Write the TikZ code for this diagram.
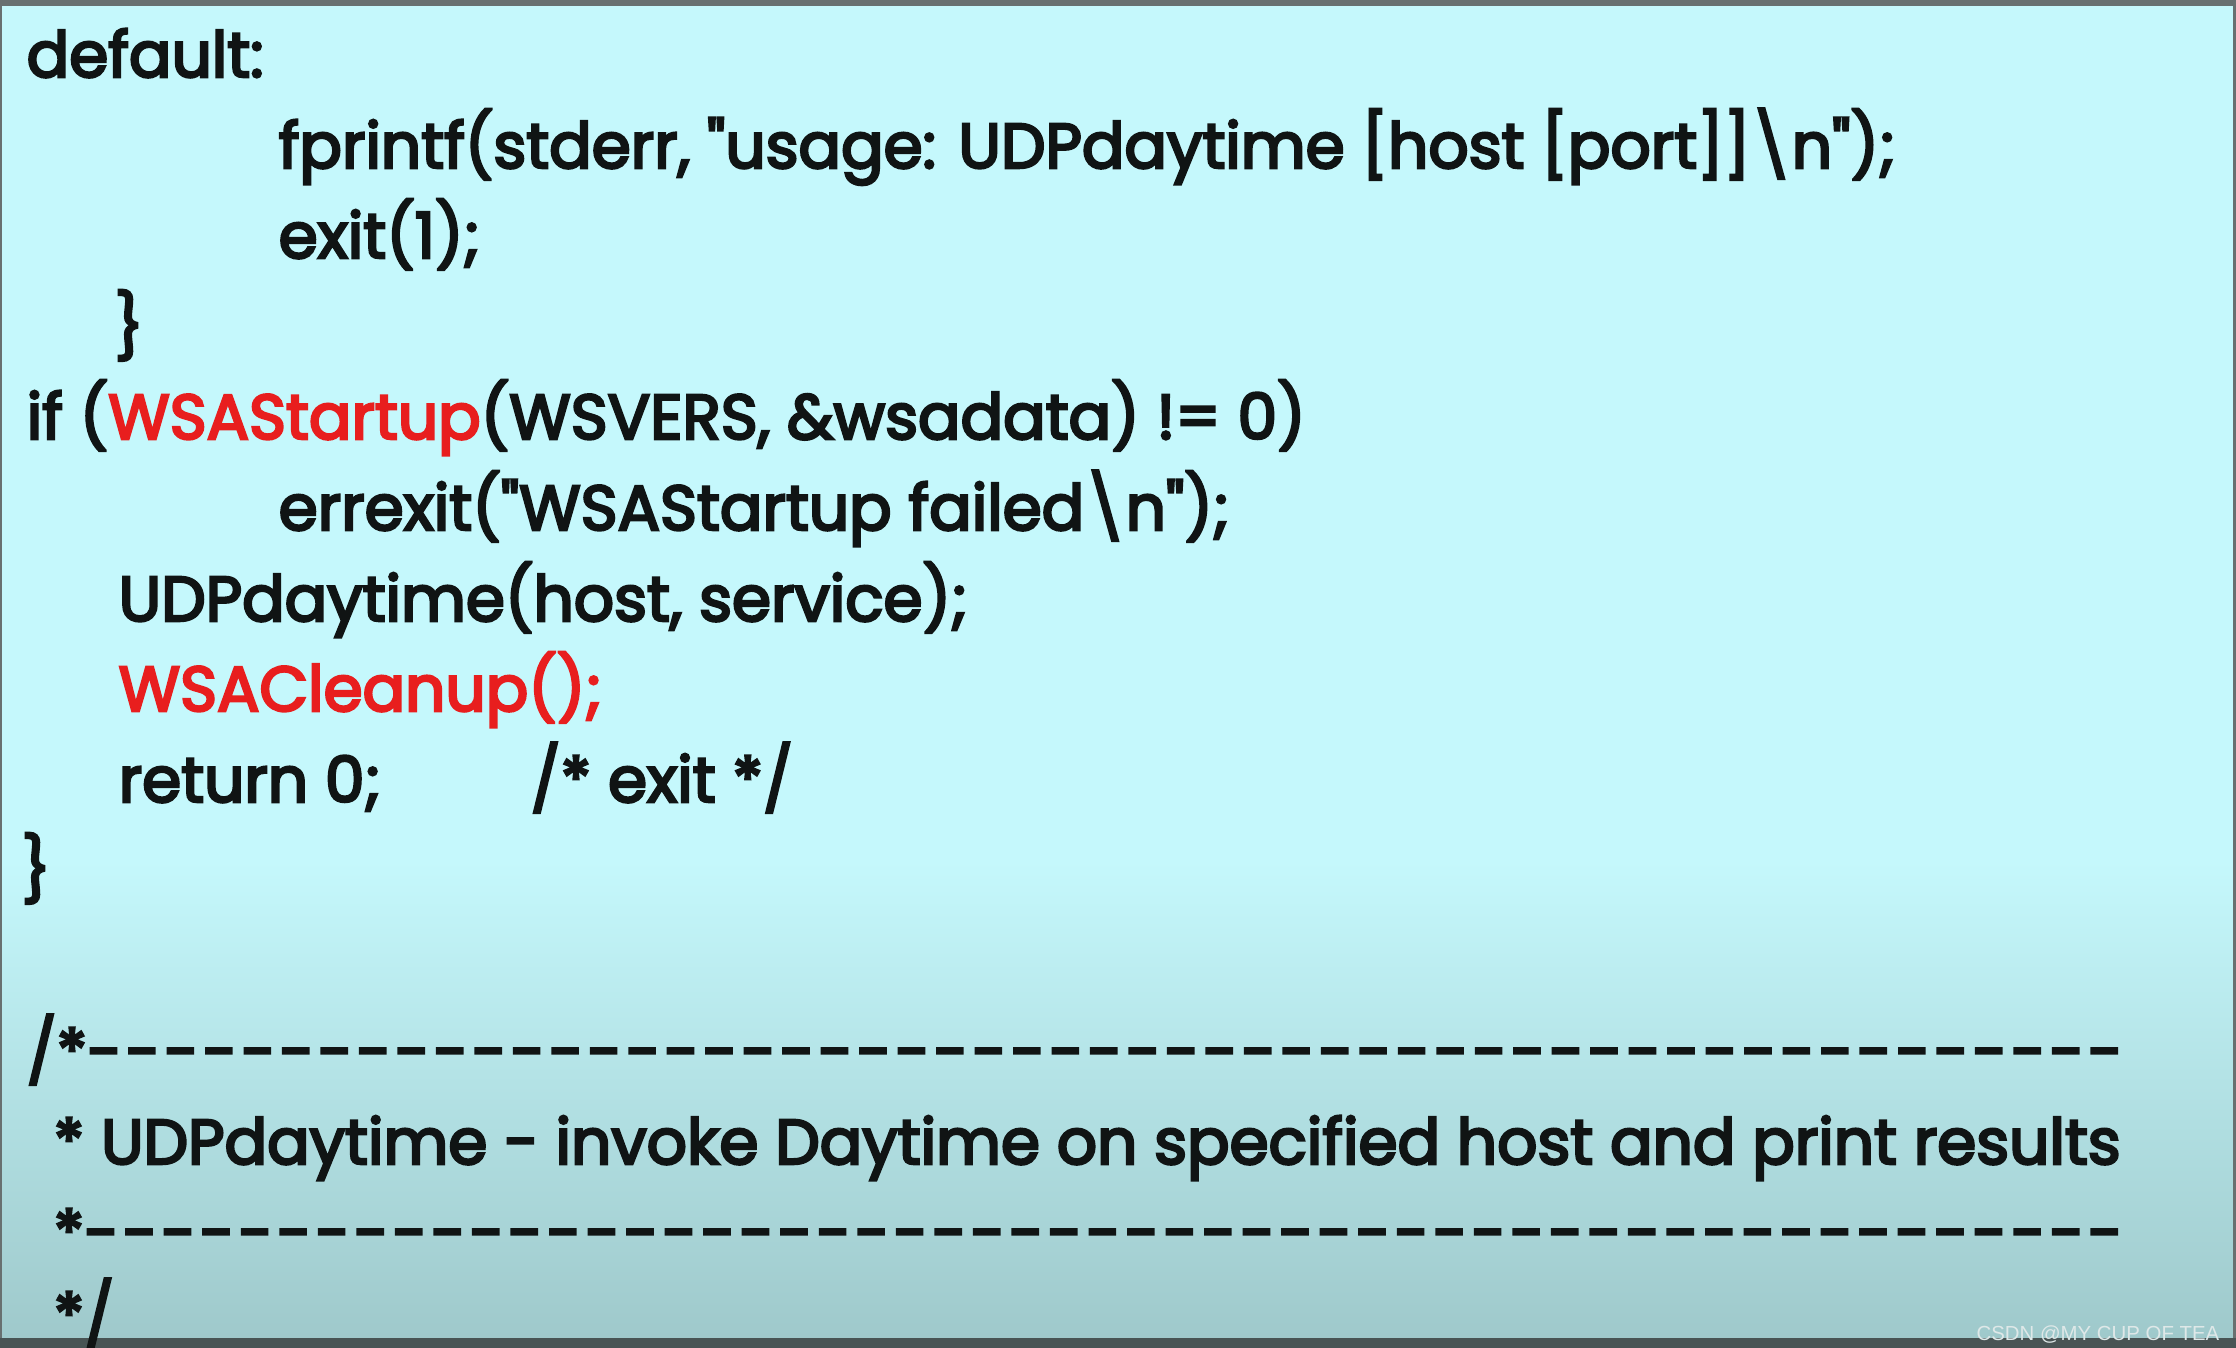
\documentclass[tikz,border=0pt]{standalone}
\usepackage{fontspec}
\setmainfont{Poppins}[Ligatures=TeXOff,FakeBold=4,FakeStretch=0.995]
\newfontfamily\markfont{Liberation Sans}
\definecolor{codered}{RGB}{232,30,30}
\definecolor{codeblack}{RGB}{16,20,20}
\definecolor{slidetop}{RGB}{197,248,252}
\definecolor{slidebot}{RGB}{158,200,202}
\definecolor{framegray}{RGB}{104,112,112}
\definecolor{framedark}{RGB}{72,84,84}
\definecolor{markgray}{RGB}{222,232,232}
\begin{document}
\begin{tikzpicture}[codeline/.style={anchor=base west,inner sep=0pt,font=\fontsize{18}{18}\selectfont,text=codeblack},
	redline/.style={codeline,text=codered}]
	\useasboundingbox (0,0) rectangle (22.36,-13.48);
	\fill[slidetop] (0,0) rectangle (22.36,-8.6);
	\shade[top color=slidetop,bottom color=slidebot] (0,-8.6) rectangle (22.36,-13.48);
	\fill[framegray] (0,0) rectangle (22.36,-.06);
	\fill[framegray] (0,0) rectangle (.025,-13.48);
	\fill[framegray] (22.33,0) rectangle (22.36,-13.48);
	\fill[framedark] (0,-13.38) rectangle (22.36,-13.48);
	\node[codeline] (default) at (.26,-.77) {default:};
	\node[codeline] (fprintf) at (2.78,-1.68) {fprintf(stderr, "usage: UDPdaytime [host [port]]\textbackslash n");};
	\node[codeline] (exitone) at (2.78,-2.58) {exit(1);};
	\node[codeline] (closeA) at (1.14,-3.49) {\}};
	\node[codeline] (ifwsa) at (.26,-4.39) {if (\textcolor{codered}{WSAStartup}(WSVERS, \&wsadata) != 0)};
	\node[codeline] (errexit) at (2.78,-5.30) {errexit("WSAStartup failed\textbackslash n");};
	\node[codeline] (udpcall) at (1.18,-6.21) {UDPdaytime(host, service);};
	\node[redline] (cleanup) at (1.18,-7.11) {WSACleanup();};
	\node[codeline] (retzero) at (1.18,-8.02) {return 0;};
	\node[codeline] (retnote) at (5.30,-8.02) {/* exit */};
	\node[codeline] (closeB) at (.21,-8.92) {\}};
	\node[codeline] (cmtopen) at (.26,-10.74) {\hbox to 20.96cm{/*\foreach\i in {1,...,52}{-\hfil}-}};
	\node[codeline] (cmttitle) at (.53,-11.64) {* UDPdaytime - invoke Daytime on specified host and print results};
	\node[codeline] (cmtrule) at (.53,-12.55) {\hbox to 20.69cm{*\foreach\i in {1,...,52}{-\hfil}-}};
	\node[codeline] (cmtclose) at (.53,-13.38) {*/};
	\node[anchor=base east,inner sep=0pt,text=markgray,font=\markfont\fontsize{5.8}{6}\selectfont] (mark) at (22.2,-13.40) {CSDN @MY CUP OF TEA};
\end{tikzpicture}
\end{document}
